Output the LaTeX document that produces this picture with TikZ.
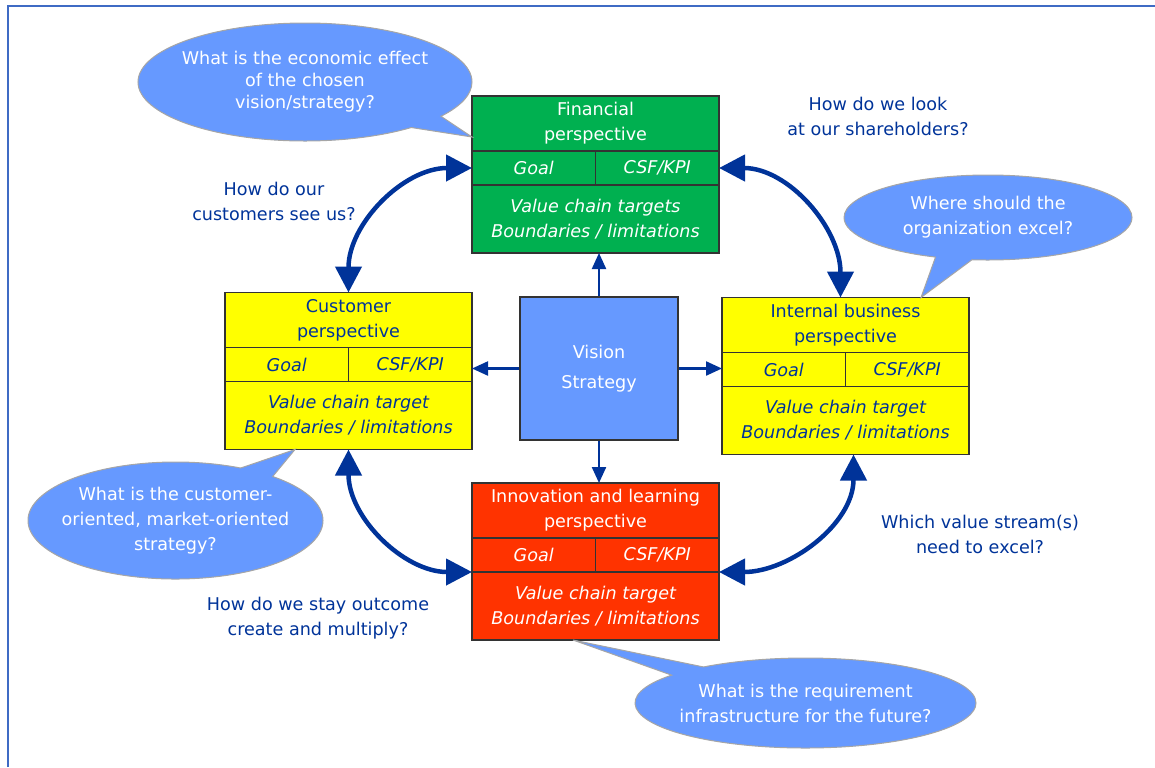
\documentclass[tikz,border=0pt]{standalone}
\usepackage{fontspec}
\setmainfont{DejaVu Sans}
\usepackage{tikz}
\usetikzlibrary{positioning,arrows.meta,shapes.callouts}

\definecolor{fingreen}{HTML}{00B050}
\definecolor{custyellow}{HTML}{FFFF00}
\definecolor{innred}{HTML}{FF3300}
\definecolor{bubbleblue}{HTML}{6699FF}
\definecolor{navy}{HTML}{003399}
\definecolor{framecol}{HTML}{3F6BC4}

\begin{document}
\begin{tikzpicture}[
    x=0.2mm, y=0.2mm,
    head/.style={draw=black!80, line width=0.25mm, outer sep=0pt, inner sep=0pt, minimum width=49.4mm, minimum height=11mm, align=center, font=\fontsize{10}{14.2}\selectfont},
    cell/.style={draw=black!80, line width=0.25mm, outer sep=0pt, inner sep=0pt, minimum width=24.7mm, minimum height=6.8mm, font=\fontsize{10}{14.2}\selectfont\itshape},
    valbox/.style={cell, minimum width=49.4mm, minimum height=13.6mm, align=center},
    fin/.style={fill=fingreen, text=white},
    cust/.style={fill=custyellow, text=navy},
    inn/.style={fill=innred, text=white},
    visionbox/.style={draw=black!80, line width=0.25mm, fill=bubbleblue, text=white, minimum width=31.6mm, minimum height=28.6mm, align=center, font=\fontsize{10}{17}\selectfont},
    arrow/.style={-{Triangle[length=3.2mm,width=2.8mm]}, line width=0.45mm, draw=navy},
    bigarrow/.style={{Triangle[length=5.2mm,width=5.2mm]}-{Triangle[length=5.2mm,width=5.2mm]}, line width=0.9mm, draw=navy},
    bubble/.style={ellipse callout, fill=bubbleblue, draw=black!35, line width=0.2mm, text=white, align=center, inner xsep=-4mm, inner ysep=0pt, font=\fontsize{10}{14.2}\selectfont},
    question/.style={text=navy, align=center, font=\fontsize{10}{14.2}\selectfont},
]
\useasboundingbox (0,0) rectangle (1155,-767);
% frame
\draw[framecol, line width=0.3mm] (8,-767) -- (8,-6) -- (1155,-6);

% Financial perspective
\node[head, fin] (finhead) at (595.5,-123.5) {Financial\\perspective};
\node[cell, fin, below right=0pt of finhead.south west] (fingoal) {Goal};
\node[cell, fin, right=0pt of fingoal] (fincsf) {CSF/KPI};
\node[valbox, fin, below right=0pt of fingoal.south west] (finval) {Value chain targets\\Boundaries / limitations};

% Customer perspective
\node[head, cust] (custhead) at (348.5,-320) {Customer\\perspective};
\node[cell, cust, below right=0pt of custhead.south west] (custgoal) {Goal};
\node[cell, cust, right=0pt of custgoal] (custcsf) {CSF/KPI};
\node[valbox, cust, below right=0pt of custgoal.south west] (custval) {Value chain target\\Boundaries / limitations};

% Internal business perspective
\node[head, cust] (inthead) at (845.5,-325) {Internal business\\perspective};
\node[cell, cust, below right=0pt of inthead.south west] (intgoal) {Goal};
\node[cell, cust, right=0pt of intgoal] (intcsf) {CSF/KPI};
\node[valbox, cust, below right=0pt of intgoal.south west] (intval) {Value chain target\\Boundaries / limitations};

% Innovation and learning perspective
\node[head, inn] (innhead) at (595.5,-510.5) {Innovation and learning\\perspective};
\node[cell, inn, below right=0pt of innhead.south west] (inngoal) {Goal};
\node[cell, inn, right=0pt of inngoal] (inncsf) {CSF/KPI};
\node[valbox, inn, below right=0pt of inngoal.south west] (innval) {Value chain target\\Boundaries / limitations};

% Vision in the middle
\node[visionbox] (vision) at (599,-368.5) {Vision\\Strategy};

\draw[arrow] (vision.north) -- (vision.north |- finval.south);
\draw[arrow] (vision.west) -- (vision.west -| custcsf.east);
\draw[arrow] (vision.east) -- (vision.east -| intgoal.west);
\draw[arrow] (vision.south) -- (vision.south |- innhead.north);

% curved links
\draw[bigarrow] (custhead.north) to[out=90,in=180] (fingoal.west);
\draw[bigarrow] (fincsf.east) to[out=0,in=90] ([xshift=-1mm]inthead.north);
\draw[bigarrow] (custval.south) to[out=-90,in=180] (inngoal.south west);
\draw[bigarrow] ([xshift=1.6mm]intval.south) to[out=-90,in=0] (inncsf.south east);

% bubbles
\node[bubble, minimum width=66.8mm, minimum height=23.6mm, font=\fontsize{10}{12.5}\selectfont,
  callout absolute pointer={([yshift=2.8mm]finhead.south west)}] (econ) at (305,-82)
  {What is the economic effect\\of the chosen\\vision/strategy?};
\node[bubble, minimum width=57.6mm, minimum height=17mm,
  callout absolute pointer={([xshift=-9.6mm]inthead.north east)}] (excel) at (988,-217.5)
  {Where should the\\organization excel?};
\node[bubble, minimum width=59mm, minimum height=23.4mm,
  callout absolute pointer={([xshift=-10.7mm]custval.south)}] (market) at (175.5,-520.5)
  {What is the customer-\\oriented, market-oriented\\strategy?};
\node[bubble, minimum width=68.2mm, minimum height=18mm,
  callout absolute pointer={([xshift=-4.5mm]innval.south)}] (infra) at (805.5,-703)
  {What is the requirement\\infrastructure for the future?};

% questions
\node[question] (qshare) at (878,-116) {How do we look\\at our shareholders?};
\node[question] (qcust) at (274,-201) {How do our\\customers see us?};
\node[question] (qstream) at (980,-534) {Which value stream(s)\\need to excel?};
\node[question] (qstay) at (318,-618) {How do we stay outcome\\create and multiply?};
\end{tikzpicture}
\end{document}
